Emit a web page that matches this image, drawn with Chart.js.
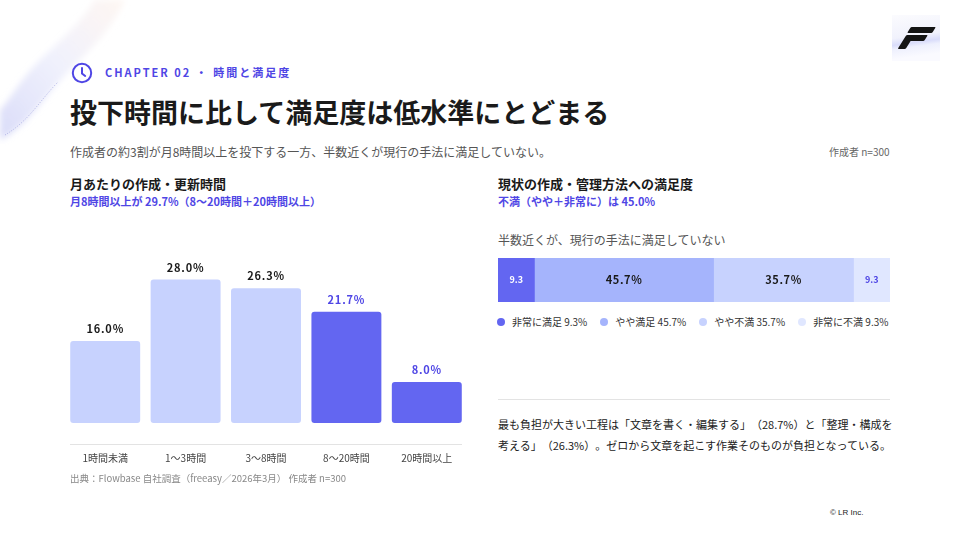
<!DOCTYPE html>
<html lang="ja">
<head>
<meta charset="utf-8">
<script src="https://cdn.jsdelivr.net/npm/chart.js"></script>
<style>
  html, body { margin: 0; padding: 0; }
  body {
    width: 960px; height: 540px; position: relative; overflow: hidden;
    background: #fff;
    font-family: "Noto Sans CJK JP", "Noto Sans", sans-serif;
    color: #1a1a1a;
    text-spacing-trim: space-all;
  }
  .abs { position: absolute; white-space: nowrap; }
  .logo {
    left: 892px; top: 15px; width: 48px; height: 46px;
    background: linear-gradient(172deg, #fbfbfe 0%, #f1f2fc 45%, #d9dcfa 58%, #eef0fd 66%, #fafaff 85%);
  }
  .logo span {
    position: absolute; background: #141414; transform: skewX(-32deg); border-radius: 1px;
  }
  .chapter {
    left: 105px; top: 64px; font-size: 11px; font-weight: 700; color: #4F46E5; letter-spacing: 2px;
  }
  .title { left: 70px; top: 92px; font-size: 27px; font-weight: 700; color: #1a1a1a; }
  .lead { left: 70px; top: 143px; font-size: 12px; color: #555; }
  .n { left: 829px; top: 144px; font-size: 10px; color: #666; }
  .h2 { font-size: 13px; font-weight: 700; color: #1a1a1a; }
  .sub { font-size: 11px; font-weight: 700; color: #4F46E5; }
  .src { left: 70px; top: 471px; font-size: 9.5px; color: #888; }
  .note { left: 498px; top: 231px; font-size: 12px; color: #555; }
  .para { left: 498px; top: 414px; font-size: 11px; line-height: 21px; color: #222; }
  .copy { left: 830px; top: 508px; font-size: 8px; color: #222; font-family: "Liberation Sans", sans-serif; }
  #satLegend { left: 497px; top: 314px; display: flex; font-size: 10px; color: #333; }
  #satLegend .item { display: flex; align-items: center; margin-right: 13px; }
  #satLegend .dot { width: 8px; height: 8px; border-radius: 50%; margin-right: 7px; }
</style>
</head>
<body>
<svg class="abs" style="left:0; top:0;" width="170" height="150" viewBox="0 0 170 150">
  <defs>
    <linearGradient id="rib" x1="0" y1="1" x2="1" y2="0">
      <stop offset="0" stop-color="#c9ccf5" stop-opacity="0.7"/>
      <stop offset="0.5" stop-color="#e6e8fb" stop-opacity="0.6"/>
      <stop offset="1" stop-color="#fdeee6" stop-opacity="0.5"/>
    </linearGradient>
    <filter id="blur"><feGaussianBlur stdDeviation="3"/></filter>
  </defs>
  <path d="M0 140 C30 125 45 95 70 70 C95 45 110 30 125 0 L95 0 C80 25 60 40 40 60 C20 80 10 100 0 110 Z" fill="url(#rib)" filter="url(#blur)"/>
  <path d="M5 135 C30 120 40 100 58 82" fill="none" stroke="#8f93d8" stroke-width="1" stroke-dasharray="1 1.5" opacity="0.6"/>
</svg>
<div class="abs logo">
  <span style="left:17px; top:12px; width:25px; height:6px;"></span>
  <span style="left:15px; top:20px; width:19px; height:6px;"></span>
  <span style="left:10px; top:20px; width:8px; height:14px;"></span>
</div>

<svg class="abs" style="left:71px; top:62px;" width="22" height="22" viewBox="0 0 22 22">
  <circle cx="11" cy="11" r="9.2" fill="none" stroke="#4F46E5" stroke-width="2"/>
  <path d="M11 6 V11.5 L14.2 14" fill="none" stroke="#4F46E5" stroke-width="2" stroke-linecap="round"/>
</svg>
<div class="abs chapter">CHAPTER 02 ・ 時間と満足度</div>
<div class="abs title">投下時間に比して満足度は低水準にとどまる</div>
<div class="abs lead">作成者の約3割が月8時間以上を投下する一方、半数近くが現行の手法に満足していない。</div>
<div class="abs n">作成者 n=300</div>

<div class="abs h2" style="left:70px; top:174px;">月あたりの作成・更新時間</div>
<div class="abs sub" style="left:70px; top:193px;">月8時間以上が 29.7%（8〜20時間＋20時間以上）</div>
<div style="position:absolute; left:65px; top:240px; width:402px; height:232px;">
  <canvas id="hoursChart"></canvas>
</div>
<div class="abs" style="left:70px; top:444px; width:392px; height:1px; background:#e3e3e3;"></div>
<div class="abs src">出典：Flowbase 自社調査（freeasy／2026年3月） 作成者 n=300</div>

<div class="abs h2" style="left:498px; top:174px;">現状の作成・管理方法への満足度</div>
<div class="abs sub" style="left:498px; top:193px;">不満（やや＋非常に）は 45.0%</div>
<div class="abs note">半数近くが、現行の手法に満足していない</div>
<div style="position:absolute; left:498px; top:258px; width:392px; height:44px;">
  <canvas id="satChart"></canvas>
</div>
<div class="abs" id="satLegend"></div>
<div class="abs" style="left:498px; top:399px; width:392px; height:1px; background:#e3e3e3;"></div>
<div class="abs para">最も負担が大きい工程は「文章を書く・編集する」（28.7%）と「整理・構成を<br>考える」（26.3%）。ゼロから文章を起こす作業そのものが負担となっている。</div>
<div class="abs copy">© LR Inc.</div>

<script>
// 月あたりの作成・更新時間
var hourLabels = ["1時間未満", "1〜3時間", "3〜8時間", "8〜20時間", "20時間以上"];
var hourValues = [16.0, 28.0, 26.3, 21.7, 8.0];
var hourColors = ["#C7D2FE", "#C7D2FE", "#C7D2FE", "#6366F1", "#6366F1"];
var hourTextColors = ["#1a1a1a", "#1a1a1a", "#1a1a1a", "#4F46E5", "#4F46E5"];

// 満足度
var satLabels = ["非常に満足", "やや満足", "やや不満", "非常に不満"];
var satValues = [9.3, 45.7, 35.7, 9.3];
var satColors = ["#6366F1", "#A5B4FC", "#C7D2FE", "#E0E7FF"];
var satInside = ["9.3", "45.7%", "35.7%", "9.3"];
var satInsideColors = ["#ffffff", "#1a1a1a", "#1a1a1a", "#4F46E5"];

var FONT = '"Noto Sans CJK JP", "Noto Sans", sans-serif';

// 棒の上に値を描く
var topLabels = {
  id: "topLabels",
  afterDatasetsDraw: function (chart) {
    var c = chart.ctx;
    var meta = chart.getDatasetMeta(0);
    c.save();
    c.font = "700 11px " + FONT;
    c.textAlign = "center";
    c.textBaseline = "middle";
    c.letterSpacing = "0.8px";
    meta.data.forEach(function (bar, i) {
      c.fillStyle = hourTextColors[i];
      c.fillText(hourValues[i].toFixed(1) + "%", bar.x, bar.y - 12);
    });
    c.restore();
  }
};

new Chart(document.getElementById("hoursChart").getContext("2d"), {
  type: "bar",
  data: {
    labels: hourLabels,
    datasets: [{
      data: hourValues,
      backgroundColor: hourColors,
      borderRadius: 3,
      borderSkipped: false,
      categoryPercentage: 1,
      barPercentage: 0.87
    }]
  },
  options: {
    responsive: true,
    maintainAspectRatio: false,
    animation: false,
    layout: { padding: 0 },
    plugins: { legend: { display: false }, tooltip: { enabled: false } },
    scales: {
      x: {
        grid: { display: false, drawTicks: false },
        border: { display: false },
        ticks: { color: "#444", font: { family: FONT, size: 10 }, padding: 8, maxRotation: 0 }
      },
      // 下に余白を取って軸線との間隔を作る
      y: { display: false, min: -4.1, max: 35.7 }
    }
  },
  plugins: [topLabels]
});

// 帯の中に値を描く
var insideLabels = {
  id: "insideLabels",
  afterDatasetsDraw: function (chart) {
    var c = chart.ctx;
    c.save();
    c.textAlign = "center";
    c.textBaseline = "middle";
    chart.data.datasets.forEach(function (ds, i) {
      var bar = chart.getDatasetMeta(i).data[0];
      var small = satInside[i].indexOf("%") < 0;
      c.font = small ? "700 9px " + FONT : "700 11px " + FONT;
      c.letterSpacing = small ? "0px" : "0.6px";
      c.fillStyle = satInsideColors[i];
      c.fillText(satInside[i], (bar.x + bar.base) / 2, bar.y);
    });
    c.restore();
  }
};

var satChart = new Chart(document.getElementById("satChart").getContext("2d"), {
  type: "bar",
  data: {
    labels: ["満足度"],
    datasets: satLabels.map(function (name, i) {
      return {
        label: name + " " + satValues[i] + "%",
        data: [satValues[i]],
        backgroundColor: satColors[i],
        categoryPercentage: 1,
        barPercentage: 1
      };
    })
  },
  options: {
    indexAxis: "y",
    responsive: true,
    maintainAspectRatio: false,
    animation: false,
    layout: { padding: 0 },
    plugins: { legend: { display: false }, tooltip: { enabled: false } },
    scales: {
      x: { display: false, stacked: true, min: 0, max: 100 },
      y: { display: false, stacked: true }
    }
  },
  plugins: [insideLabels]
});

// 凡例はチャートのデータセットから作る
var legendBox = document.getElementById("satLegend");
satChart.data.datasets.forEach(function (ds) {
  var item = document.createElement("div");
  item.className = "item";
  var dot = document.createElement("span");
  dot.className = "dot";
  dot.style.background = ds.backgroundColor;
  item.appendChild(dot);
  item.appendChild(document.createTextNode(ds.label));
  legendBox.appendChild(item);
});
</script>
</body>
</html>
